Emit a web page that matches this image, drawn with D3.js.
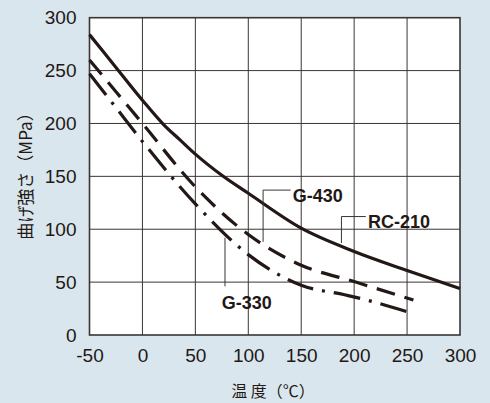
<!DOCTYPE html>
<html>
<head>
<meta charset="utf-8">
<style>
  html, body { margin: 0; padding: 0; background: #d9e6ed; }
  svg { display: block; }
</style>
</head>
<body>
<script src="https://cdn.jsdelivr.net/npm/d3@7"></script>
<script>
// data
var xTicks = [-50, 0, 50, 100, 150, 200, 250, 300];
var yTicks = [0, 50, 100, 150, 200, 250, 300];

var rc210 = [[-50,284],[-25,253],[0,222],[20,199],[36,184],[50,171],[75,151],[100,134],[150,101],[200,79],[250,61],[300,44]];
var g430  = [[-50,260],[-25,230],[0,200],[50,140],[100,95],[150,66],[200,50.5],[256,33]];
var g330  = [[-50,247],[-25,215],[0,183],[50,124],[100,76],[150,47],[191,38],[212,33],[250,22]];

var seriesNames = ["RC-210", "G-430", "G-330"];

// label leaders, in data units
var notes = [
  { name: "G-430",  vx: 114, vTop: 137, vBot: 88,  hx: 140, tx: 142, ty: 131 },
  { name: "RC-210", vx: 188, vTop: 112, vBot: 87,  hx: 211, tx: 213, ty: 107 },
  { name: "G-330",  vx: 78,  vTop: 92,  vBot: 46,  hx: null, tx: 75, ty: 30 }
];

var W = 490, H = 403;
var svg = d3.select("body").append("svg")
    .attr("width", W).attr("height", H);

var x = d3.scaleLinear().domain([-50, 300]).range([89.5, 460]);
var y = d3.scaleLinear().domain([0, 300]).range([335, 17.7]);

var ink = "#231815";
var font = "'Liberation Sans', Arial, Helvetica, sans-serif";

// plot background
svg.append("rect")
    .attr("x", x(-50)).attr("y", y(300))
    .attr("width", x(300) - x(-50)).attr("height", y(0) - y(300))
    .attr("fill", "#fff");

// grid
svg.append("g").selectAll("line")
    .data(xTicks.slice(1, -1)).enter().append("line")
    .attr("x1", d => x(d)).attr("x2", d => x(d))
    .attr("y1", y(0)).attr("y2", y(300))
    .attr("stroke", "#3b3535").attr("stroke-width", 1);

svg.append("g").selectAll("line")
    .data(yTicks.slice(1, -1)).enter().append("line")
    .attr("x1", x(-50)).attr("x2", x(300))
    .attr("y1", d => y(d)).attr("y2", d => y(d))
    .attr("stroke", "#3b3535").attr("stroke-width", 1);

svg.append("rect")
    .attr("x", x(-50)).attr("y", y(300))
    .attr("width", x(300) - x(-50)).attr("height", y(0) - y(300))
    .attr("fill", "none").attr("stroke", "#3b3535").attr("stroke-width", 1.6);

// axes (labels only), plain hyphen for negatives
var xAxis = d3.axisBottom(x).tickValues(xTicks).tickSize(0).tickPadding(14)
    .tickFormat(d => String(d));
var gx = svg.append("g").attr("transform", "translate(0," + y(0) + ")").call(xAxis);
gx.select(".domain").remove();
gx.selectAll("text").attr("font-size", 19).attr("font-family", font).attr("fill", ink);

var yAxis = d3.axisLeft(y).tickValues(yTicks).tickSize(0).tickPadding(13)
    .tickFormat(d => String(d));
var gy = svg.append("g").attr("transform", "translate(" + x(-50) + ",0)").call(yAxis);
gy.select(".domain").remove();
gy.selectAll("text").attr("font-size", 19).attr("font-family", font).attr("fill", ink);

// curves
var line = d3.line()
    .x(d => x(d[0])).y(d => y(d[1]))
    .curve(d3.curveMonotoneX);

var series = [
  { name: seriesNames[0], pts: rc210, dash: null },
  { name: seriesNames[1], pts: g430,  dash: "19,10" },
  { name: seriesNames[2], pts: g330,  dash: "27,9,3,9" }
];

svg.append("g").selectAll("path")
    .data(series).enter().append("path")
    .attr("d", d => line(d.pts))
    .attr("fill", "none")
    .attr("stroke", ink)
    .attr("stroke-width", 3.2)
    .attr("stroke-dasharray", d => d.dash);

// leaders and labels
notes.forEach(function(n) {
  var path = "M" + x(n.vx) + "," + y(n.vBot) + "V" + y(n.vTop);
  if (n.hx !== null) path += "H" + x(n.hx);
  svg.append("path").attr("d", path)
      .attr("fill", "none").attr("stroke", "#3b3535").attr("stroke-width", 1);
});

svg.append("g").selectAll("text")
    .data(notes).enter().append("text")
    .attr("x", d => x(d.tx)).attr("y", d => y(d.ty))
    .attr("dominant-baseline", "central")
    .attr("font-family", font).attr("font-weight", "bold")
    .attr("font-size", 18).attr("fill", ink)
    .text(d => d.name);

// axis titles
svg.append("text")
    .attr("x", 273).attr("y", 390)
    .attr("text-anchor", "middle").attr("dominant-baseline", "central")
    .attr("font-family", "'Noto Sans CJK JP', sans-serif").attr("font-size", 16)
    .attr("fill", ink)
    .text("温 度（℃）");

svg.append("text")
    .attr("transform", "translate(24,172) rotate(-90)")
    .attr("text-anchor", "middle").attr("dominant-baseline", "central")
    .attr("font-family", "'Noto Sans CJK JP', sans-serif").attr("font-size", 17)
    .attr("fill", ink)
    .text("曲げ強さ（MPa）");
</script>
</body>
</html>
